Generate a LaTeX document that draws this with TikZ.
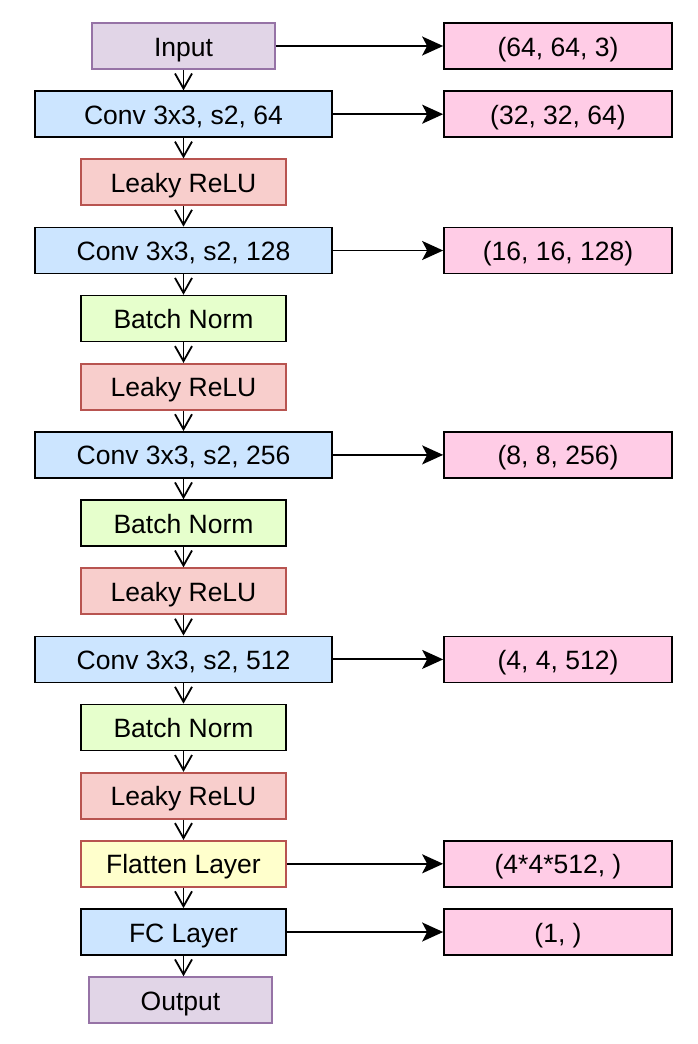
\documentclass[tikz,border=0pt]{standalone}
\usepackage{fontspec}
\setmainfont{Liberation Sans}
\usetikzlibrary{arrows.meta}
\definecolor{iofill}{HTML}{E1D5E7}
\definecolor{iodraw}{HTML}{9673A6}
\definecolor{convfill}{HTML}{CCE5FF}
\definecolor{relufill}{HTML}{F8CECC}
\definecolor{reludraw}{HTML}{B85450}
\definecolor{bnfill}{HTML}{E6FFCC}
\definecolor{flatfill}{HTML}{FFFFCC}
\definecolor{shapefill}{HTML}{FFCCE6}
\begin{document}
\begin{tikzpicture}[x=1pt,y=-1pt,
  box/.style={draw, line width=1.7pt, minimum height=46pt, inner sep=0pt,
    text height=20pt, text depth=0pt,
    font=\fontsize{26.5}{30}\selectfont, anchor=center},
  iobox/.style={box, minimum width=183pt, fill=iofill, draw=iodraw},
  convbox/.style={box, minimum width=297pt, fill=convfill},
  relubox/.style={box, minimum width=205pt, fill=relufill, draw=reludraw},
  bnbox/.style={box, minimum width=205pt, fill=bnfill},
  flatbox/.style={box, minimum width=205pt, fill=flatfill, draw=reludraw},
  fcbox/.style={box, minimum width=205pt, fill=convfill},
  shapebox/.style={box, minimum width=228pt, fill=shapefill},
  down/.style={line width=1.8pt, -{Straight Barb[length=15pt,width=17pt,line width=1.8pt]}},
  side/.style={line width=1.9pt, -{Stealth[length=21pt,width=19pt,inset=5pt]}}
]
\useasboundingbox (0,0) rectangle (698,1044);

% main column
\node[iobox]   (in)   at (183.5, 46.0) {Input};
\node[convbox] (c1)   at (183.5, 114.2) {Conv 3x3, s2, 64};
\node[relubox] (r1)   at (183.5, 182.3) {Leaky ReLU};
\node[convbox] (c2)   at (183.5, 250.5) {Conv 3x3, s2, 128};
\node[bnbox]   (b2)   at (183.5, 318.6) {Batch Norm};
\node[relubox] (r2)   at (183.5, 386.8) {Leaky ReLU};
\node[convbox] (c3)   at (183.5, 454.9) {Conv 3x3, s2, 256};
\node[bnbox]   (b3)   at (183.5, 523.1) {Batch Norm};
\node[relubox] (r3)   at (183.5, 591.2) {Leaky ReLU};
\node[convbox] (c4)   at (183.5, 659.4) {Conv 3x3, s2, 512};
\node[bnbox]   (b4)   at (183.5, 727.5) {Batch Norm};
\node[relubox] (r4)   at (183.5, 795.7) {Leaky ReLU};
\node[flatbox] (fl)   at (183.5, 863.8) {Flatten Layer};
\node[fcbox]   (fc)   at (183.5, 932.0) {FC Layer};
\node[iobox]   (out)  at (180.5, 1000.1) {Output};

% output shapes
\node[shapebox] (s0) at (558, 46.0)  {(64, 64, 3)};
\node[shapebox] (s1) at (558, 114.2) {(32, 32, 64)};
\node[shapebox] (s2) at (558, 250.5) {(16, 16, 128)};
\node[shapebox] (s3) at (558, 454.9) {(8, 8, 256)};
\node[shapebox] (s4) at (558, 659.4) {(4, 4, 512)};
\node[shapebox] (s5) at (558, 863.8) {(4*4*512, )};
\node[shapebox] (s6) at (558, 932.0) {(1, )};

% flow down the column
\foreach \a/\b in {in/c1, c1/r1, r1/c2, c2/b2, b2/r2, r2/c3, c3/b3, b3/r3,
                   r3/c4, c4/b4, b4/r4, r4/fl, fl/fc}
  \draw[down] (\a.south) -- (\b.north);
\draw[down] (fc.south) -- (fc.south |- out.north);

% shape annotations
\foreach \a/\b in {in/s0, c1/s1, c2/s2, c3/s3, c4/s4, fl/s5, fc/s6}
  \draw[side] (\a.east) -- (\b.west);
\end{tikzpicture}
\end{document}
